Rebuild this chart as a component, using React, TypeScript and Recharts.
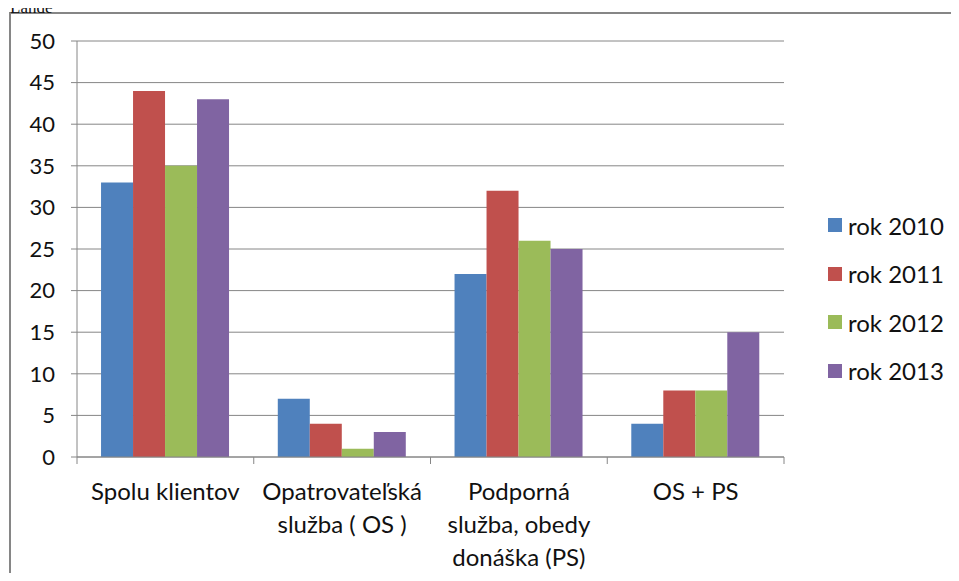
import { BarChart, Bar, XAxis, YAxis, CartesianGrid } from 'recharts'

const categories = [
  'Spolu klientov',
  'Opatrovateľská\nslužba ( OS )',
  'Podporná\nslužba, obedy\ndonáška (PS)',
  'OS + PS',
]
const rok2010 = [33, 7, 22, 4]
const rok2011 = [44, 4, 32, 8]
const rok2012 = [35, 1, 26, 8]
const rok2013 = [43, 3, 25, 15]
const yTicks = [0, 5, 10, 15, 20, 25, 30, 35, 40, 45, 50]

const series = [
  { key: 'rok2010', name: 'rok 2010', color: '#4F81BD', values: rok2010 },
  { key: 'rok2011', name: 'rok 2011', color: '#C0504D', values: rok2011 },
  { key: 'rok2012', name: 'rok 2012', color: '#9BBB59', values: rok2012 },
  { key: 'rok2013', name: 'rok 2013', color: '#8064A2', values: rok2013 },
]

const data = categories.map((category, i) => {
  const row: Record<string, string | number> = { category }
  series.forEach((s) => {
    row[s.key] = s.values[i]
  })
  return row
})

const FONT = 'Lato, "Noto Sans", sans-serif'
const TEXT = '#111'
const LINE = '#868686'

function CategoryTick(props: any) {
  const { x, y, payload, index, visibleTicksCount } = props
  const half = payload?.offset ?? 0
  const lines = String(payload.value).split('\n')
  const isLast = index === visibleTicksCount - 1
  return (
    <g>
      <line x1={x - half} x2={x - half} y1={y} y2={y + 7} stroke={LINE} />
      {isLast && <line x1={x + half} x2={x + half} y1={y} y2={y + 7} stroke={LINE} />}
      <text x={x} y={y + 43} textAnchor="middle" fill={TEXT} fontSize={24} fontFamily={FONT}>
        {lines.map((l, i) => (
          <tspan key={i} x={x} dy={i === 0 ? 0 : 33}>
            {l}
          </tspan>
        ))}
      </text>
    </g>
  )
}

export default function App() {
  return (
    <div style={{ position: 'relative', width: 943, height: 565 }}>
      <div
        style={{
          position: 'absolute',
          left: 2,
          top: -9,
          fontFamily: '"Liberation Serif", serif',
          fontSize: 17,
          lineHeight: '18px',
          color: '#111',
          zIndex: 2,
        }}
      >
        Lahde
      </div>
      <div
        style={{
          position: 'absolute',
          left: 1,
          top: 4,
          width: 950,
          height: 569,
          boxSizing: 'border-box',
          borderLeft: `2px solid ${LINE}`,
          borderTop: `2px solid ${LINE}`,
          background: '#fff',
        }}
      >
        <BarChart
          width={940}
          height={560}
          data={data}
          margin={{ top: 27, right: 167, bottom: 7, left: 16 }}
          barCategoryGap="13.6%"
          barGap={0}
        >
          <CartesianGrid vertical={false} stroke={LINE} />
          <XAxis
            dataKey="category"
            height={110}
            interval={0}
            tickLine={false}
            tickSize={0}
            tickMargin={0}
            axisLine={{ stroke: LINE }}
            tick={<CategoryTick />}
          />
          <YAxis
            width={50}
            domain={[0, 50]}
            ticks={yTicks}
            interval={0}
            tickSize={6}
            tickMargin={16}
            axisLine={{ stroke: LINE }}
            tickLine={{ stroke: LINE }}
            tick={{ fill: TEXT, fontSize: 22, fontFamily: FONT }}
          />
          {series.map((s) => (
            <Bar key={s.key} dataKey={s.key} name={s.name} fill={s.color} isAnimationActive={false} />
          ))}
        </BarChart>
        <div style={{ position: 'absolute', left: 817, top: 187, fontFamily: FONT, fontSize: 24, color: TEXT }}>
          {series.map((s) => (
            <div key={s.key} style={{ height: 48.5, display: 'flex', alignItems: 'center' }}>
              <span style={{ width: 14, height: 14, background: s.color, marginRight: 6, display: 'inline-block' }} />
              <span>{s.name}</span>
            </div>
          ))}
        </div>
      </div>
    </div>
  )
}
